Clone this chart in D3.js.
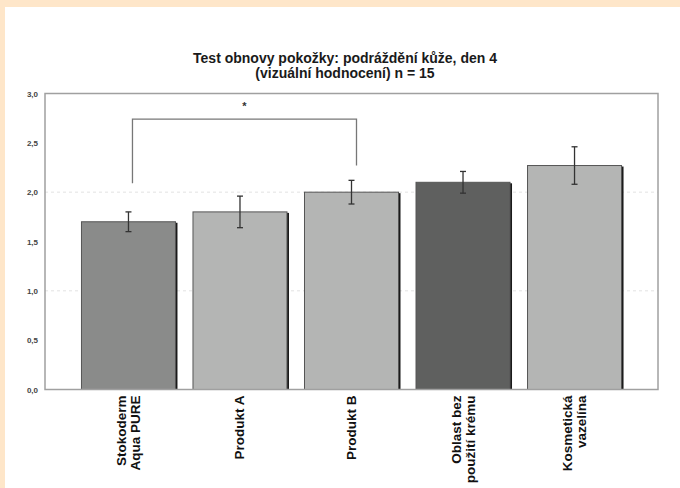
<!DOCTYPE html>
<html>
<head>
<meta charset="utf-8">
<script src="https://cdn.jsdelivr.net/npm/d3@7"></script>
<style>
  html, body { margin: 0; padding: 0; background: #fee6c9; }
  svg { display: block; }
</style>
</head>
<body>
<script>
const categories = [["Stokoderm", "Aqua PURE"], ["Produkt A"], ["Produkt B"], ["Oblast bez", "použití krému"], ["Kosmetická", "vazelína"]];
const values = [1.70, 1.80, 2.00, 2.10, 2.27];
const errors = [0.10, 0.16, 0.12, 0.11, 0.19];
const barColors = ["#8a8b8a", "#b4b5b4", "#b4b5b4", "#5f605f", "#b4b5b4"];
const yTicks = [0, 0.5, 1.0, 1.5, 2.0, 2.5, 3.0];
const gridValues = [1.0, 2.0];
const titleLines = ["Test obnovy pokožky: podráždění kůže, den 4", "(vizuální hodnocení) n = 15"];
// significance bracket: between category 0 and 2, top level and leg ends (data units)
const bracket = { from: 0, to: 2, top: 2.74, leftEnd: 2.09, rightEnd: 2.27, label: "*" };

const W = 680, H = 488;
const svg = d3.select("body").append("svg").attr("width", W).attr("height", H);

// peach frame & white panel
svg.append("rect").attr("x", 0).attr("y", 0).attr("width", W).attr("height", H).attr("fill", "#fee6c9");
svg.append("rect").attr("x", 5).attr("y", 7).attr("width", W - 5).attr("height", H - 7).attr("fill", "#ffffff");

const plot = { left: 45, right: 658, top: 93.5, bottom: 389.5 };

const x = d3.scaleBand().domain(d3.range(categories.length))
  .range([plot.left, plot.right]).paddingInner(0.157).paddingOuter(0.327);
const y = d3.scaleLinear().domain([0, 3]).range([plot.bottom, plot.top]);

// gridlines
svg.append("g").selectAll("line").data(gridValues).join("line")
  .attr("x1", plot.left).attr("x2", plot.right)
  .attr("y1", d => y(d)).attr("y2", d => y(d))
  .attr("stroke", "#e2e2e2").attr("stroke-width", 1).attr("stroke-dasharray", "3,3");

// y axis labels
const yAxis = d3.axisLeft(y).tickValues(yTicks).tickSize(0).tickPadding(7)
  .tickFormat(d => d3.format(".1f")(d).replace(".", ","));
const ya = svg.append("g").attr("transform", `translate(${plot.left},0)`).call(yAxis);
ya.select(".domain").remove();
ya.selectAll("text").attr("font-family", "Liberation Sans, Arial, sans-serif")
  .attr("font-size", 8).attr("font-weight", "bold").attr("fill", "#444");

// bars
const bars = svg.append("g");
bars.selectAll("rect.shadow").data(values).join("rect").attr("class", "shadow")
  .attr("x", (d, i) => x(i) + 2).attr("y", d => y(d) + 1)
  .attr("width", x.bandwidth()).attr("height", d => y(0) - y(d) - 1)
  .attr("fill", "#1a1a1a");
bars.selectAll("rect.bar").data(values).join("rect").attr("class", "bar")
  .attr("x", (d, i) => x(i)).attr("y", d => y(d))
  .attr("width", x.bandwidth()).attr("height", d => y(0) - y(d))
  .attr("fill", (d, i) => barColors[i]).attr("stroke", "#555").attr("stroke-width", 1);

// error bars
const eb = svg.append("g").attr("stroke", "#333").attr("stroke-width", 1.3);
values.forEach((v, i) => {
  const cx = x(i) + x.bandwidth() / 2;
  eb.append("line").attr("x1", cx).attr("x2", cx).attr("y1", y(v + errors[i])).attr("y2", y(v - errors[i]));
  eb.append("line").attr("x1", cx - 3).attr("x2", cx + 3).attr("y1", y(v + errors[i])).attr("y2", y(v + errors[i]));
  eb.append("line").attr("x1", cx - 3).attr("x2", cx + 3).attr("y1", y(v - errors[i])).attr("y2", y(v - errors[i]));
});

// plot frame
svg.append("rect").attr("x", plot.left).attr("y", plot.top)
  .attr("width", plot.right - plot.left).attr("height", plot.bottom - plot.top)
  .attr("fill", "none").attr("stroke", "#a0a0a0").attr("stroke-width", 1.5);

// significance bracket
const bx1 = x(bracket.from) + x.bandwidth() / 2 + 4;
const bx2 = x(bracket.to) + x.bandwidth() / 2 + 5;
svg.append("path")
  .attr("d", `M${bx1},${y(bracket.leftEnd)}V${y(bracket.top)}H${bx2}V${y(bracket.rightEnd)}`)
  .attr("fill", "none").attr("stroke", "#777").attr("stroke-width", 1.3);
svg.append("text").attr("x", (bx1 + bx2) / 2).attr("y", y(bracket.top) - 9)
  .attr("text-anchor", "middle").attr("font-family", "Liberation Sans, Arial, sans-serif")
  .attr("font-size", 11).attr("font-weight", "bold").attr("fill", "#333").text(bracket.label);

// title
const title = svg.append("text").attr("text-anchor", "middle")
  .attr("font-family", "Liberation Sans, Arial, sans-serif").attr("font-size", 14)
  .attr("font-weight", "bold").attr("fill", "#1a1a1a");
titleLines.forEach((t, i) => {
  title.append("tspan").attr("x", 345).attr("y", 63 + i * 15).text(t);
});

// category labels (rotated)
const lab = svg.append("g");
categories.forEach((lines, i) => {
  const cx = x(i) + x.bandwidth() / 2;
  const n = lines.length;
  lines.forEach((t, j) => {
    const lx = cx + (j - (n - 1) / 2) * 14 + 4.5;
    lab.append("text")
      .attr("transform", `translate(${lx},${plot.bottom + 6}) rotate(-90)`)
      .attr("text-anchor", "end")
      .attr("font-family", "Liberation Sans, Arial, sans-serif")
      .attr("font-size", 13.5).attr("font-weight", "bold").attr("fill", "#111")
      .text(t);
  });
});
</script>
</body>
</html>
